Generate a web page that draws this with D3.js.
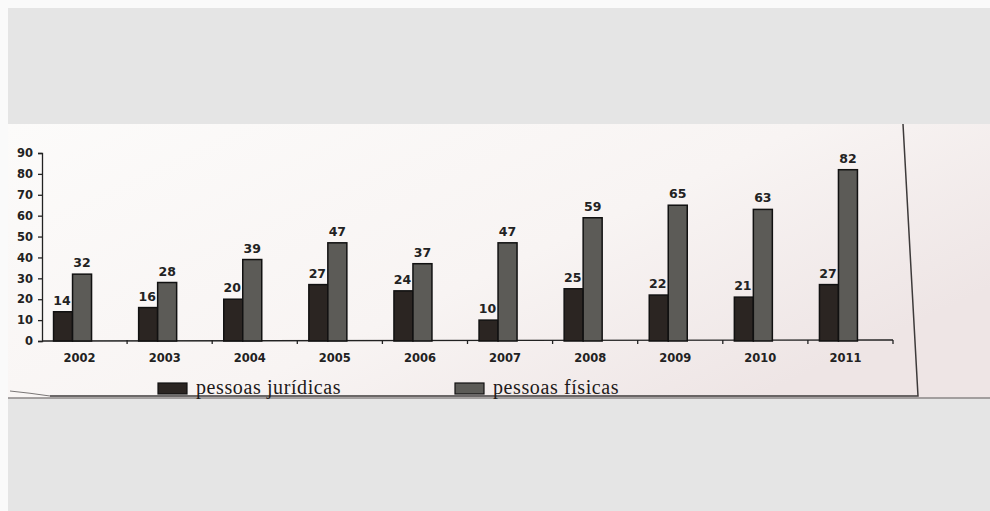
<!DOCTYPE html>
<html>
<head>
<meta charset="utf-8">
<script src="https://cdn.jsdelivr.net/npm/d3@7"></script>
<style>
  body { margin: 0; background: #e5e5e5; }
  svg { display: block; }
</style>
</head>
<body>
<div id="chart"></div>
<script>
const width = 990;
const height = 511;

// data
const years = ["2002", "2003", "2004", "2005", "2006", "2007", "2008", "2009", "2010", "2011"];
const juridicas = [14, 16, 20, 27, 24, 10, 25, 22, 21, 27];
const fisicas = [32, 28, 39, 47, 37, 47, 59, 65, 63, 82];
const yTicks = [0, 10, 20, 30, 40, 50, 60, 70, 80, 90];
const seriesNames = ["pessoas jurídicas", "pessoas físicas"];
const seriesColors = ["#2b2522", "#5c5b57"];

const svg = d3.select("#chart").append("svg")
    .attr("width", width).attr("height", height);

// photo frame: thin light strip then grey
svg.append("rect").attr("width", width).attr("height", height).attr("fill", "#fafafa");
svg.append("rect").attr("x", 8).attr("y", 8).attr("width", width - 8).attr("height", height - 8).attr("fill", "#e5e5e5");

// paper
const defs = svg.append("defs");
const grad = defs.append("linearGradient").attr("id", "paper")
    .attr("x1", "0%").attr("y1", "0%").attr("x2", "100%").attr("y2", "60%");
grad.append("stop").attr("offset", "0%").attr("stop-color", "#fcfbfa");
grad.append("stop").attr("offset", "60%").attr("stop-color", "#f8f4f3");
grad.append("stop").attr("offset", "100%").attr("stop-color", "#eee5e5");
svg.append("rect")
    .attr("x", 8).attr("y", 124).attr("width", width - 8).attr("height", 274)
    .attr("fill", "url(#paper)");
svg.append("line")
    .attr("x1", 8).attr("x2", width).attr("y1", 398).attr("y2", 398)
    .attr("stroke", "#8a8686").attr("stroke-width", 1.5);

// chart box border (right side and bottom)
svg.append("path")
    .attr("d", "M903,124 L918,396 L50,396")
    .attr("fill", "none").attr("stroke", "#3d3a3a").attr("stroke-width", 1.5);
svg.append("path")
    .attr("d", "M10,391 Q30,393 50,396")
    .attr("fill", "none").attr("stroke", "#7a7676").attr("stroke-width", 1);

const x = d3.scaleBand()
    .domain(years)
    .range([42, 893]);

const y = d3.scaleLinear()
    .domain([0, 90])
    .range([341, 153]);

const barW = 19;
const shift = -12;

// y axis
const yAxis = d3.axisLeft(y).tickValues(yTicks).tickSize(4).tickPadding(5);
const gy = svg.append("g")
    .attr("transform", "translate(42,0)")
    .call(yAxis);
gy.select(".domain").attr("stroke", "#222").attr("stroke-width", 1.3);
gy.selectAll(".tick line").attr("stroke", "#222").attr("stroke-width", 1.3);
gy.selectAll("text")
    .style("font-family", "DejaVu Sans")
    .style("font-weight", 700)
    .style("font-size", "11.5px")
    .attr("fill", "#222");

// x axis line with ticks at band boundaries
svg.append("line")
    .attr("x1", 42).attr("x2", 893).attr("y1", 341).attr("y2", 340)
    .attr("stroke", "#222").attr("stroke-width", 1.3);
svg.append("g").selectAll("line")
    .data(years)
    .join("line")
    .attr("x1", d => x(d) + x.step())
    .attr("x2", d => x(d) + x.step())
    .attr("y1", 340).attr("y2", 344)
    .attr("stroke", "#222").attr("stroke-width", 1.3);

svg.append("g").selectAll("text")
    .data(years)
    .join("text")
    .attr("x", d => x(d) + x.bandwidth() / 2 - 5)
    .attr("y", 362)
    .attr("text-anchor", "middle")
    .style("font-family", "DejaVu Sans")
    .style("font-weight", 700)
    .style("font-size", "11.5px")
    .attr("fill", "#222")
    .text(d => d);

// bars
const groups = svg.append("g").selectAll("g")
    .data(years)
    .join("g")
    .attr("transform", d => `translate(${x(d) + x.bandwidth() / 2 + shift},0)`);

[juridicas, fisicas].forEach((vals, s) => {
    groups.append("rect")
        .attr("x", s === 0 ? -barW : 0)
        .attr("y", (d, i) => y(vals[i]))
        .attr("width", barW)
        .attr("height", (d, i) => y(0) - y(vals[i]))
        .attr("fill", seriesColors[s])
        .attr("stroke", "#111")
        .attr("stroke-width", 1.5);
});

// value labels on top of everything
[juridicas, fisicas].forEach((vals, s) => {
    groups.append("text")
        .attr("x", s === 0 ? -barW / 2 - 1 : barW / 2)
        .attr("y", (d, i) => y(vals[i]) - 7)
        .attr("text-anchor", "middle")
        .style("font-family", "DejaVu Sans")
        .style("font-weight", 700)
        .style("font-size", "12.5px")
        .attr("fill", "#222")
        .text((d, i) => vals[i]);
});

// legend
const legendX = [158, 455];
const legend = svg.append("g").selectAll("g")
    .data(seriesNames)
    .join("g")
    .attr("transform", (d, i) => `translate(${legendX[i]},383)`);
legend.append("rect")
    .attr("width", 29).attr("height", 11)
    .attr("fill", (d, i) => seriesColors[i])
    .attr("stroke", "#111").attr("stroke-width", 1.2);
legend.append("text")
    .attr("x", 38).attr("y", 11)
    .style("font-family", "Liberation Serif")
    .style("font-size", "20px")
    .style("letter-spacing", "0.6px")
    .attr("fill", "#1e1a1a")
    .text(d => d);
</script>
</body>
</html>
